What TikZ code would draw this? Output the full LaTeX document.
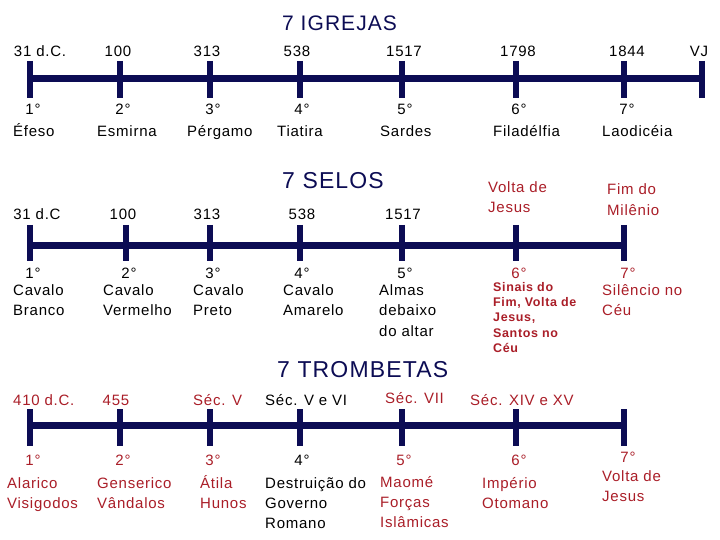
\documentclass[tikz,border=0pt]{standalone}
\usepackage{fontspec}
\setmainfont{Liberation Sans}[LetterSpace=5]
\definecolor{navy}{RGB}{12,12,84}
\definecolor{dred}{RGB}{170,30,40}
\tikzset{
  bar/.style={navy, line width=7pt},
  tk/.style={navy, line width=6pt},
  tc/.style={inner sep=0pt, font=\fontsize{15}{18}\selectfont, anchor=base},
  tl/.style={tc, anchor=base west},
  ttl/.style={inner sep=0pt, font=\fontsize{21}{24}\selectfont, text=navy, anchor=base west},
  ttlb/.style={ttl, font=\fontsize{23}{26}\selectfont},
  sm/.style={inner sep=0pt, anchor=base west, font=\fontsize{12.5}{15}\selectfont\bfseries, text=dred},
  rd/.style={text=dred}
}
\begin{document}
\begin{tikzpicture}[x=1pt,y=-1pt]
\useasboundingbox[fill=white] (0,0) rectangle (720,540);
% ---------- 7 IGREJAS ----------
\node[ttl] (tA) at (282,31) {7 IGREJAS};
\coordinate (aL) at (30,79); \coordinate (aR) at (702,79);
\draw[bar] (aL) -- (aR);
\foreach \i/\x in {1/30,2/120,3/210,4/300,5/402,6/516,7/624,8/702}{
  \coordinate (a\i t) at (\x,61); \coordinate (a\i b) at (\x,98);
  \draw[tk] (a\i t) -- (a\i b);
}
\foreach \i/\x/\s in {1/40/31 d.C.,2/118/100,3/207/313,4/297/538,5/404/1517,6/518/1798,7/627/1844,8/699/VJ}{
  \node[tc] (ay\i) at (\x,57) {\s};
}
\foreach \i/\x/\s in {1/33/1°,2/123/2°,3/213/3°,4/302/4°,5/405/5°,6/519/6°,7/627/7°}{
  \node[tc] (an\i) at (\x,115) {\s};
}
\foreach \i/\x/\s in {1/13/Éfeso,2/97/Esmirna,3/187/Pérgamo,4/277/Tiatira,5/380/Sardes,6/493/Filadélfia,7/602/Laodicéia}{
  \node[tl] (am\i) at (\x,137) {\s};
}
% ---------- 7 SELOS ----------
\node[ttlb] (tB) at (282,189) {7 SELOS};
\coordinate (bL) at (30,245); \coordinate (bR) at (624,245);
\draw[bar] (bL) -- (bR);
\foreach \i/\x in {1/30,2/126,3/210,4/300,5/402,6/516,7/624}{
  \coordinate (b\i t) at (\x,225); \coordinate (b\i b) at (\x,261);
  \draw[tk] (b\i t) -- (b\i b);
}
\foreach \i/\x/\s in {1/37/31 d.C,2/123/100,3/207/313,4/302/538,5/403/1517}{
  \node[tc] (by\i) at (\x,220) {\s};
}
\node[tl,rd] (by6a) at (488,193) {Volta de};
\node[tl,rd] (by6b) at (488,213) {Jesus};
\node[tl,rd] (by7a) at (607,195) {Fim do};
\node[tl,rd] (by7b) at (607,215) {Milênio};
\foreach \i/\x/\s in {1/33/1°,2/129/2°,3/213/3°,4/302/4°,5/405/5°}{
  \node[tc] (bn\i) at (\x,278) {\s};
}
\node[tc,rd] (bn6) at (519,278) {6°};
\node[tc,rd] (bn7) at (628,278) {7°};
\foreach \i/\x/\s/\t in {1/13/Cavalo/Branco,2/103/Cavalo/Vermelho,3/193/Cavalo/Preto,4/283/Cavalo/Amarelo,5/379/Almas/debaixo}{
  \node[tl] (bm\i a) at (\x,295) {\s};
  \node[tl] (bm\i b) at (\x,315) {\t};
}
\node[tl] (bm5c) at (379,336) {do altar};
\node[sm] (bs1) at (493,291) {Sinais do};
\node[sm] (bs2) at (493,306) {Fim, Volta de};
\node[sm] (bs3) at (493,321) {Jesus,};
\node[sm] (bs4) at (493,337) {Santos no};
\node[sm] (bs5) at (493,352) {Céu};
\node[tl,rd] (bm7a) at (602,295) {Silêncio no};
\node[tl,rd] (bm7b) at (602,315) {Céu};
% ---------- 7 TROMBETAS ----------
\node[ttlb] (tC) at (277,377) {7 TROMBETAS};
\coordinate (cL) at (30,425); \coordinate (cR) at (624,425);
\draw[bar] (cL) -- (cR);
\foreach \i/\x in {1/30,2/120,3/210,4/300,5/402,6/516,7/624}{
  \coordinate (c\i t) at (\x,409); \coordinate (c\i b) at (\x,446);
  \draw[tk] (c\i t) -- (c\i b);
}
\node[tl,rd] (cy1) at (13,405) {410 d.C.};
\node[tc,rd] (cy2) at (116,405) {455};
\node[tl,rd] (cy3) at (193,405) {Séc. V};
\node[tl] (cy4) at (265,405) {Séc. V e VI};
\node[tl,rd] (cy5) at (385,403) {Séc. VII};
\node[tl,rd] (cy6) at (470,405) {Séc. XIV e XV};
\foreach \i/\x/\s in {1/33/1°,2/123/2°,3/213/3°,5/404/5°,6/519/6°}{
  \node[tc,rd] (cn\i) at (\x,465) {\s};
}
\node[tc] (cn4) at (302,465) {4°};
\node[tc,rd] (cn7) at (628,462) {7°};
\node[tl,rd] (cm1a) at (7,488) {Alarico};
\node[tl,rd] (cm1b) at (7,508) {Visigodos};
\node[tl,rd] (cm2a) at (97,488) {Genserico};
\node[tl,rd] (cm2b) at (97,508) {Vândalos};
\node[tl,rd] (cm3a) at (200,488) {Átila};
\node[tl,rd] (cm3b) at (200,508) {Hunos};
\node[tl] (cm4a) at (265,488) {Destruição do};
\node[tl] (cm4b) at (265,508) {Governo};
\node[tl] (cm4c) at (265,528) {Romano};
\node[tl,rd] (cm5a) at (380,487) {Maomé};
\node[tl,rd] (cm5b) at (380,507) {Forças};
\node[tl,rd] (cm5c) at (380,527) {Islâmicas};
\node[tl,rd] (cm6a) at (482,488) {Império};
\node[tl,rd] (cm6b) at (482,508) {Otomano};
\node[tl,rd] (cm7a) at (602,481) {Volta de};
\node[tl,rd] (cm7b) at (602,501) {Jesus};
\end{tikzpicture}
\end{document}
